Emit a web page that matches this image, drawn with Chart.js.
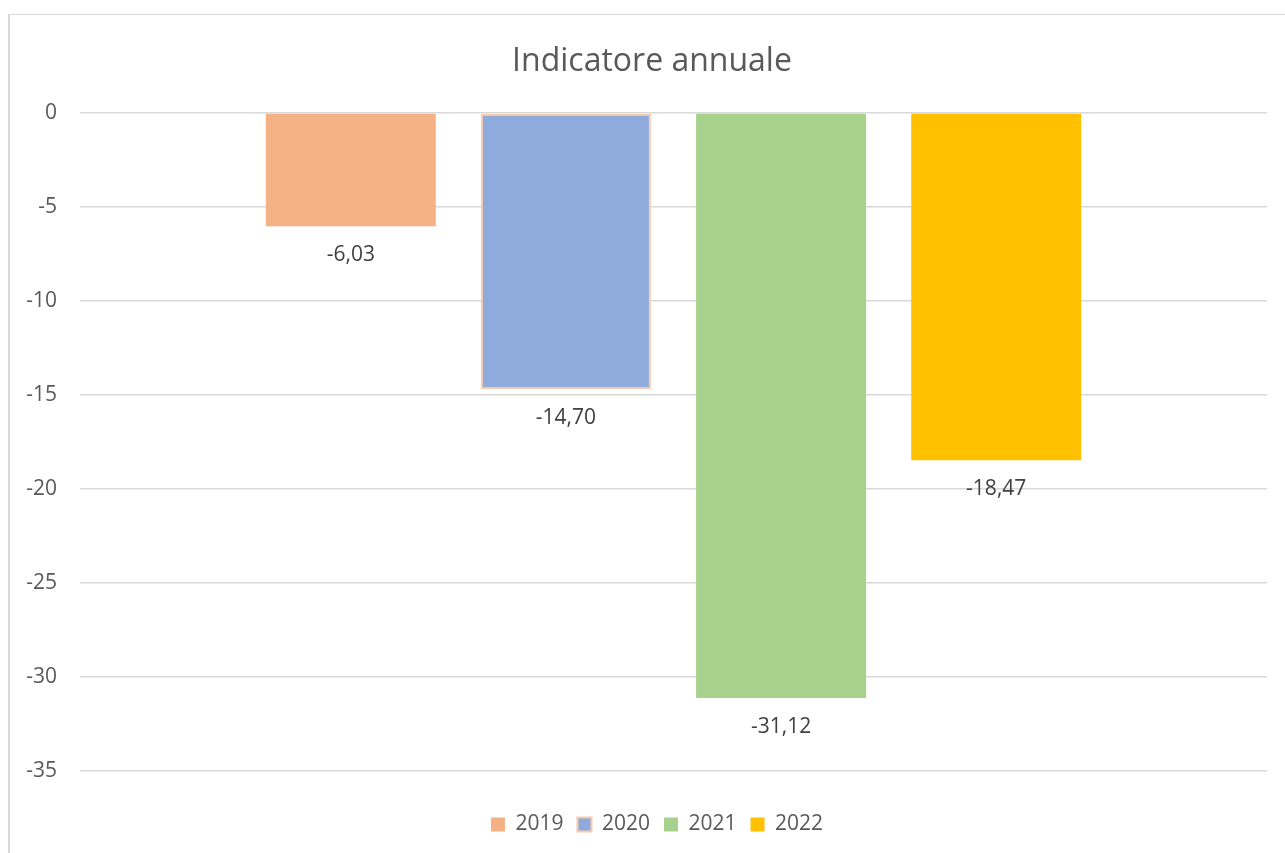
<!DOCTYPE html>
<html>
<head>
<meta charset="utf-8">
<script src="https://cdn.jsdelivr.net/npm/chart.js@4/dist/chart.umd.min.js"></script>
<style>
  html, body { margin: 0; padding: 0; background: #ffffff; overflow: hidden; }
  #wrap { position: absolute; left: 0; top: 0; width: 1285px; height: 853px; }
  #frame { position: absolute; left: 8px; top: 14px; width: 1300px; height: 900px;
           border-top: 1px solid #d9d9d9; border-left: 2px solid #d9d9d9; pointer-events: none; }
</style>
</head>
<body>
<div id="wrap"><canvas id="c" width="1285" height="853"></canvas></div>
<div id="frame"></div>
<script>
const chartTitle = 'Indicatore annuale';
const categories = [''];
const years = ['2019', '2020', '2021', '2022'];
const values = [-6.03, -14.70, -31.12, -18.47];
const yTicks = [0, -5, -10, -15, -20, -25, -30, -35];
const fillColors = ['#F4B183', '#8FAADC', '#A9D18E', '#FFC000'];
const borderColors = ['#F4B183', '#F8CBAD', '#A9D18E', '#FFC000'];

const FONT = "'Open Sans', 'DejaVu Sans', sans-serif";

const datasets = years.map((y, i) => ({
  label: y,
  data: [values[i]],
  backgroundColor: fillColors[i],
  borderColor: borderColors[i],
  borderWidth: i === 1 ? 2 : 0,
  borderSkipped: false,
  categoryPercentage: 0.725,
  barPercentage: 0.79
}));

const dataLabels = {
  id: 'dataLabels',
  afterDatasetsDraw(chart) {
    const ctx = chart.ctx;
    ctx.save();
    ctx.font = '21px ' + FONT;
    ctx.fillStyle = '#404040';
    ctx.textAlign = 'center';
    ctx.textBaseline = 'middle';
    chart.data.datasets.forEach((ds, i) => {
      const meta = chart.getDatasetMeta(i);
      meta.data.forEach((bar, j) => {
        const v = ds.data[j];
        const txt = v.toFixed(2).replace('.', ',');
        ctx.fillText(txt, bar.x, bar.y + 29);
      });
    });
    ctx.restore();
  }
};

// Title and legend are centred on the (wider, cropped) original chart frame
const shiftBlocks = {
  id: 'shiftBlocks',
  afterLayout(chart) {
    if (chart.titleBlock) chart.titleBlock.left += 37;
    if (chart.legend) chart.legend.left += 47;
  }
};

new Chart(document.getElementById('c'), {
  type: 'bar',
  data: { labels: categories, datasets },
  options: {
    responsive: false,
    animation: false,
    layout: { padding: { left: 0, right: 18, top: 0, bottom: 8 } },
    plugins: {
      title: {
        display: true,
        text: chartTitle,
        color: '#595959',
        font: { family: FONT, size: 32, weight: 'normal' },
        padding: { top: 42.5, bottom: 32.1 }
      },
      legend: {
        display: true,
        position: 'bottom',
        labels: {
          color: '#595959',
          font: { family: FONT, size: 21 },
          boxWidth: 14,
          boxHeight: 14,
          padding: 14
        }
      },
      tooltip: { enabled: false }
    },
    scales: {
      x: {
        display: true,
        grid: { display: false },
        border: { display: false },
        ticks: { display: false },
        afterFit(scale) { scale.height = 29; }
      },
      y: {
        min: -35,
        max: 0,
        afterBuildTicks(scale) { scale.ticks = yTicks.map(v => ({ value: v })); },
        afterFit(scale) { scale.width = 80; },
        grid: { color: '#d9d9d9', lineWidth: 1.5, drawTicks: false },
        border: { display: false },
        ticks: {
          color: '#595959',
          font: { family: FONT, size: 21 },
          padding: 23
        }
      }
    }
  },
  plugins: [dataLabels, shiftBlocks]
});
</script>
</body>
</html>
